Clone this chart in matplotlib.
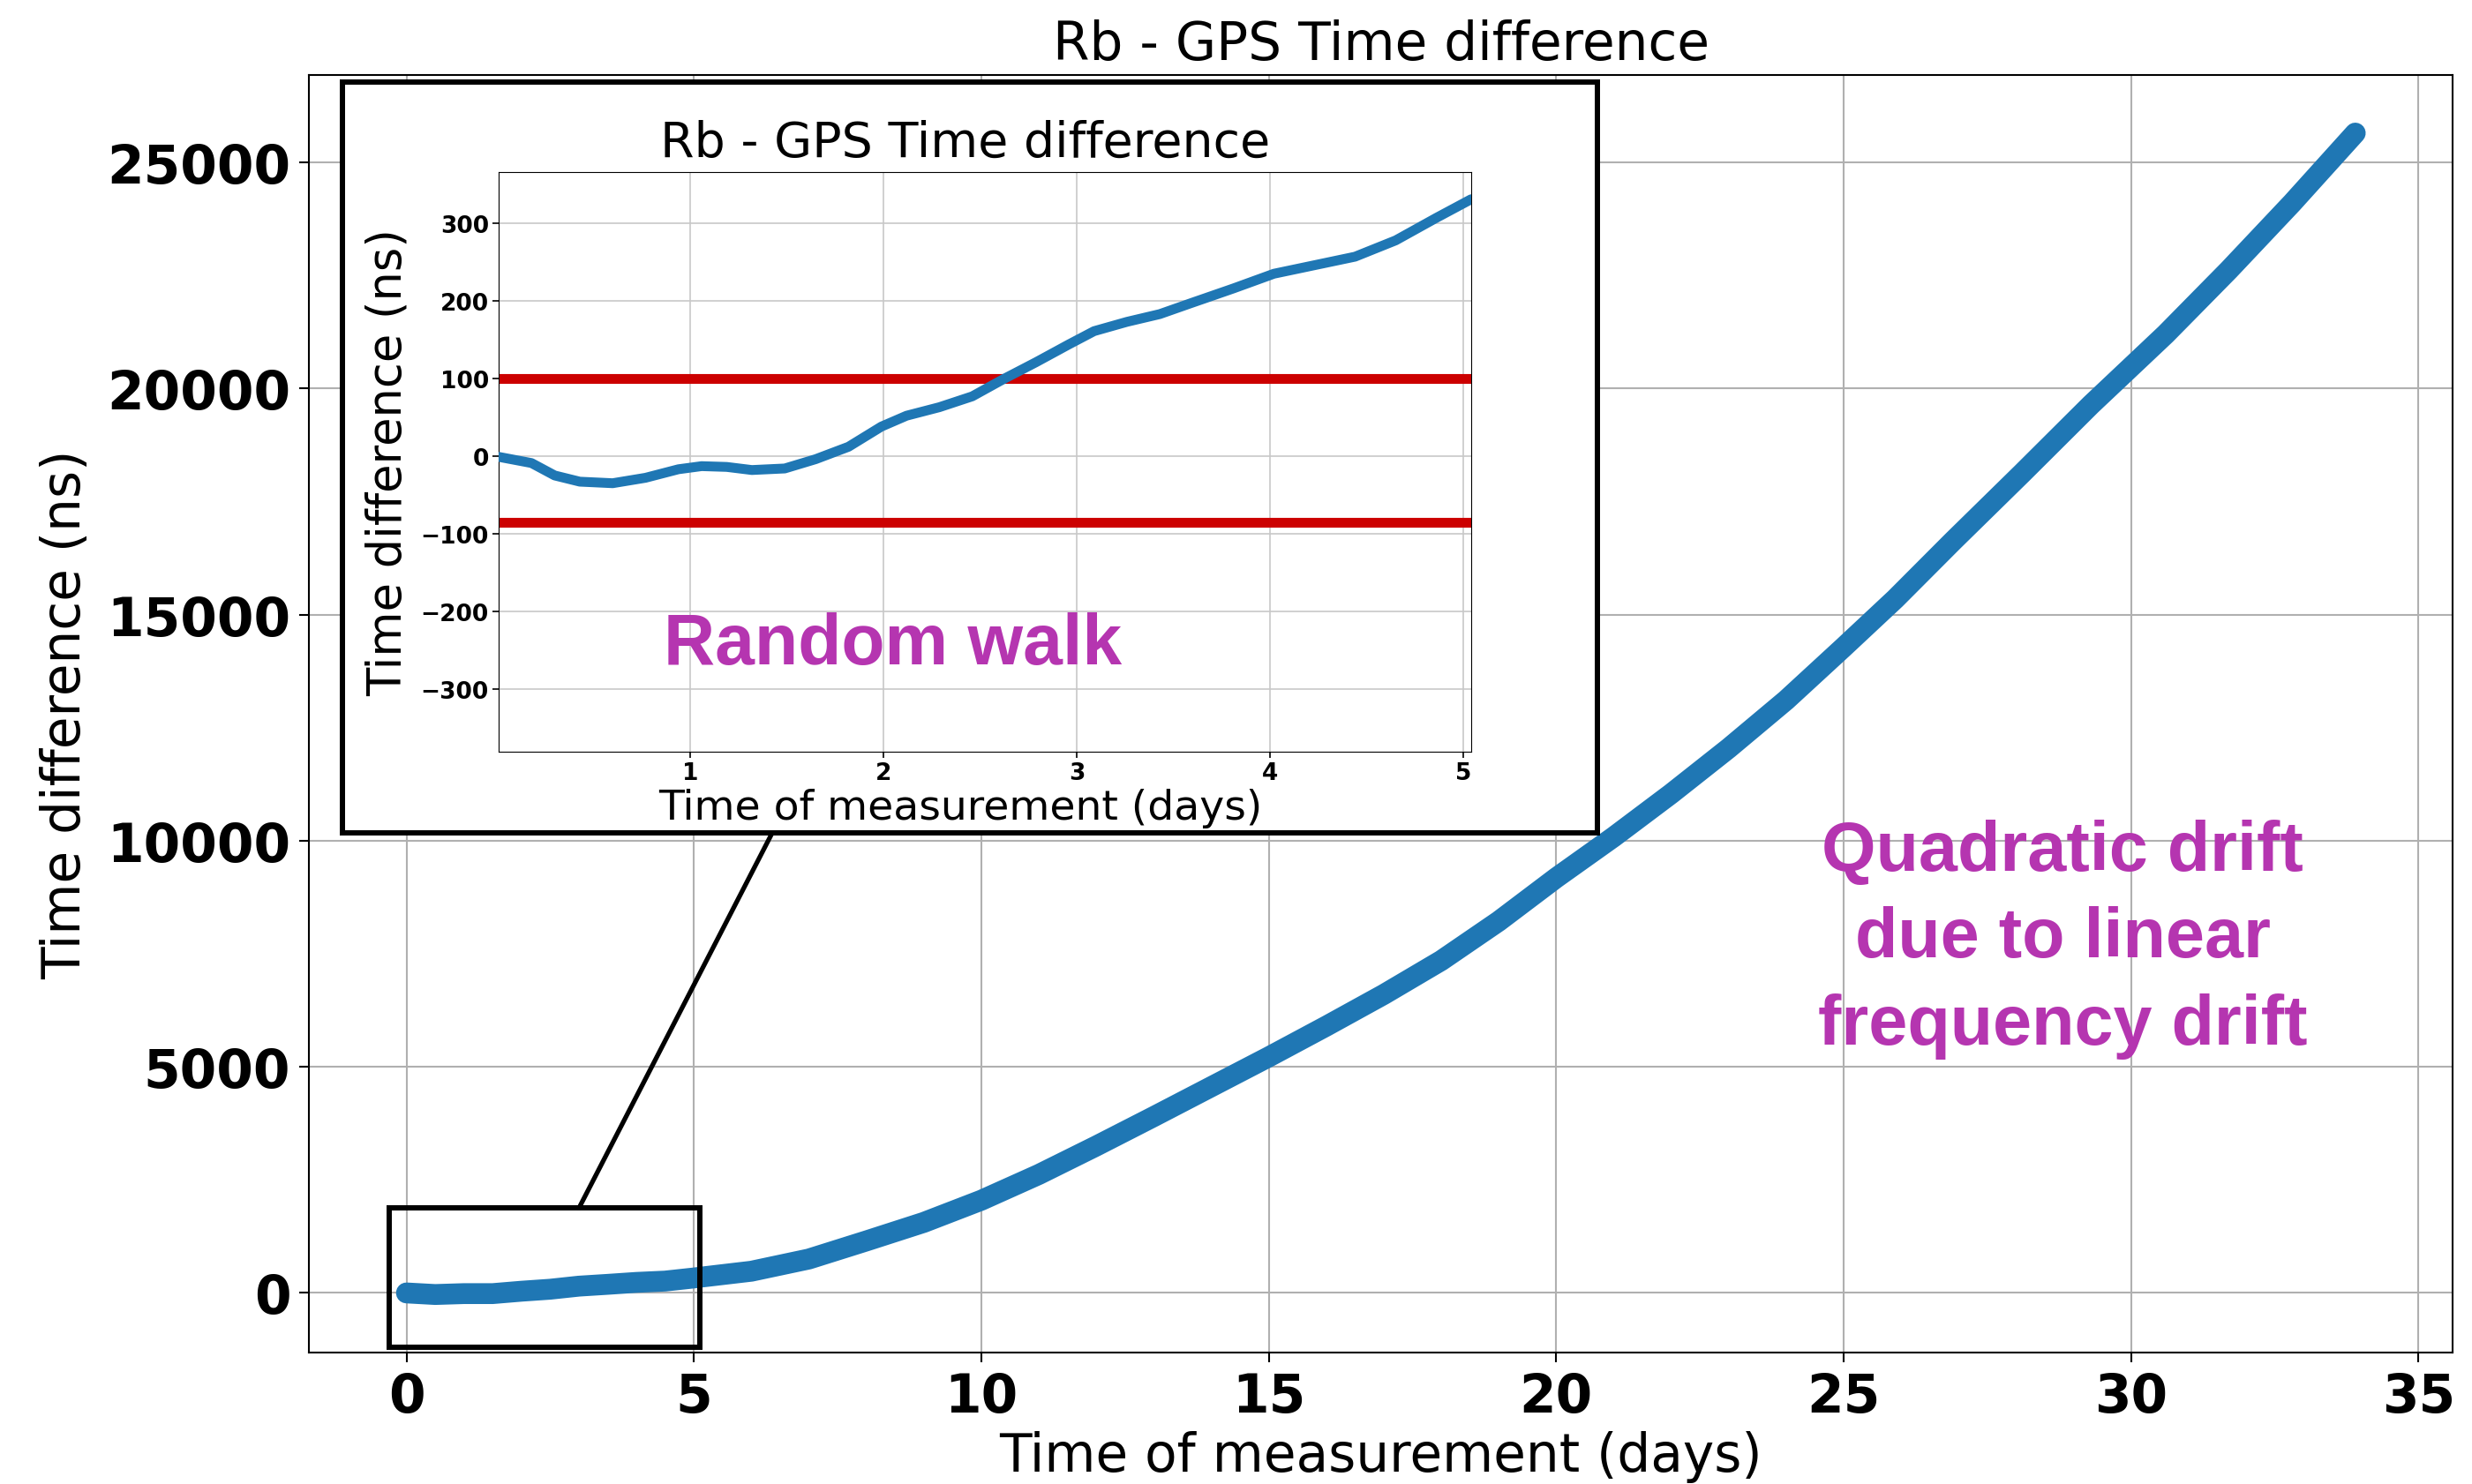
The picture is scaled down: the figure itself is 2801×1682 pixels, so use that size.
import matplotlib
matplotlib.use("Agg")
import matplotlib.pyplot as plt
from matplotlib.patches import Rectangle, ConnectionPatch

# whole run, Rb - GPS time difference (ns) vs days
days = [0, 0.5, 1.0, 1.5, 2.0, 2.5, 3.0, 3.5, 4.0, 4.5, 5.0, 6.0, 7.0, 8.0, 9.0,
        10.0, 11.0, 12.0, 13.0, 14.0, 15.0, 16.0, 17.0, 18.0, 19.0, 20.0, 21.0,
        22.0, 23.0, 24.0, 25.0, 25.9, 26.9, 28.1, 29.3, 30.6, 31.7, 32.8, 33.9]
diff_ns = [0, -35, -15, -15, 38, 82, 150, 190, 233, 262, 331, 480, 750, 1150, 1560,
           2050, 2620, 3250, 3900, 4560, 5220, 5900, 6600, 7350, 8220, 9180, 10085,
           11040, 12045, 13110, 14280, 15350, 16625, 18121, 19640, 21200, 22620, 24101, 25650]

# first five days (zoom)
days_zoom = [0.01, 0.18, 0.30, 0.43, 0.60, 0.77, 0.94, 1.06, 1.19, 1.32, 1.49, 1.65,
             1.82, 1.99, 2.12, 2.29, 2.46, 2.62, 2.79, 2.96, 3.09, 3.26, 3.43, 3.59,
             3.81, 4.02, 4.23, 4.44, 4.65, 4.86, 5.04]
diff_zoom = [-1, -9, -25, -33, -35, -28, -17, -13, -14, -18, -16, -4, 12, 38, 52, 63,
             77, 99, 121, 144, 161, 173, 183, 197, 216, 235, 246, 257, 278, 307, 331]

band = [100, -85]

x_ticks = [0, 5, 10, 15, 20, 25, 30, 35]
y_ticks = [0, 5000, 10000, 15000, 20000, 25000]
zoom_x_ticks = [1, 2, 3, 4, 5]
zoom_y_ticks = [-300, -200, -100, 0, 100, 200, 300]

quad_text = ["Quadratic drift", "due to linear", "frequency drift"]

BLUE = "#1f77b4"
RED = "#cc0000"
PURPLE = "#b535b0"

fig = plt.figure(figsize=(28.01, 16.83), dpi=100)

# main plot
ax = fig.add_axes([0.1250, 0.0885, 0.8672, 0.8604])
ax.plot(days, diff_ns, color=BLUE, lw=17, solid_capstyle="round",
        solid_joinstyle="round", zorder=3)
ax.set_xticks(x_ticks)
ax.set_yticks(y_ticks)
ax.grid(True, color="#b0b0b0", lw=1.5)
ax.tick_params(labelsize=43, length=8, width=1.5, pad=7)
for lab in ax.get_xticklabels() + ax.get_yticklabels():
    lab.set_fontweight("bold")
ax.set_xlabel("Time of measurement (days)", fontsize=43, labelpad=6)
ax.set_ylabel("Time difference (ns)", fontsize=43, labelpad=12)
ax.set_title("Rb - GPS Time difference", fontsize=43, pad=13)
for s in ax.spines.values():
    s.set_linewidth(1.5)

# box around the zoomed region
ax.add_patch(Rectangle((-0.3, -1210), 5.41, 3085, fill=False, ec="black",
                       lw=4.3, zorder=4))

for k, line in enumerate(quad_text):
    ax.text(0.818, 0.3778 - 0.0680 * k, line, transform=ax.transAxes,
            ha="center", va="baseline", fontsize=57, fontweight="bold",
            family="Liberation Sans", color=PURPLE)

# frame of the inset
frame = fig.add_axes([0.1385, 0.4385, 0.5077, 0.5056], zorder=5)
frame.set_xticks([])
frame.set_yticks([])
frame.set_facecolor("white")
for s in frame.spines.values():
    s.set_linewidth(4.3)

con = ConnectionPatch(xyA=(3.0, 1875), coordsA=ax.transData,
                      xyB=(0.3425, 0.0), coordsB=frame.transAxes,
                      color="black", lw=3.8)
fig.add_artist(con)

# inset plot
ins = fig.add_axes([0.2017, 0.4932, 0.3934, 0.3903], zorder=6)
ins.plot(days_zoom, diff_zoom, color=BLUE, lw=8, solid_capstyle="round",
         solid_joinstyle="round", zorder=3)
for b in band:
    ins.axhline(b, color=RED, lw=8, zorder=2)
ins.set_xlim(days_zoom[0], days_zoom[-1])
ins.set_ylim(-381, 366)
ins.set_xticks(zoom_x_ticks)
ins.set_yticks(zoom_y_ticks)
ins.grid(True, color="#c8c8c8", lw=1.2)
ins.tick_params(labelsize=19, length=5, width=1.2, pad=3)
for lab in ins.get_xticklabels() + ins.get_yticklabels():
    lab.set_fontweight("bold")
ins.set_title("Rb - GPS Time difference", fontsize=40, pad=13, x=0.48)
ins.set_xlabel("Time of measurement (days)", fontsize=34, labelpad=3, x=0.475)
ins.set_ylabel("Time difference (ns)", fontsize=38, labelpad=8)
ins.text(0.405, 0.152, "Random walk", transform=ins.transAxes, ha="center",
         va="baseline", fontsize=58, fontweight="bold", family="Liberation Sans",
         color=PURPLE)

fig.savefig("out.png", dpi=100)
